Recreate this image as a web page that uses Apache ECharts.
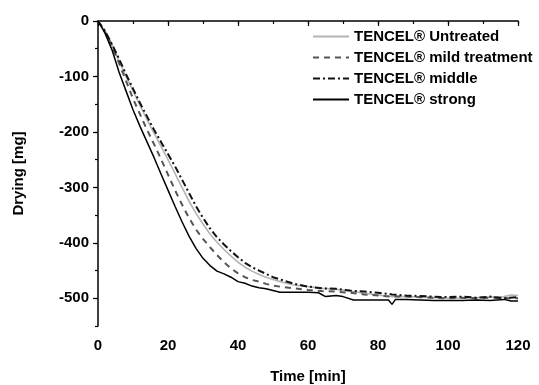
<!DOCTYPE html>
<html>
<head>
<meta charset="utf-8">
<script src="https://cdn.jsdelivr.net/npm/echarts@6/dist/echarts.min.js"></script>
<style>
  html, body { margin: 0; padding: 0; background: #fff; }
  #chart { width: 539px; height: 385px; }
</style>
</head>
<body>
<div id="chart"></div>
<script>
const seriesNames = ['TENCEL® Untreated', 'TENCEL® mild treatment', 'TENCEL® middle', 'TENCEL® strong'];

const untreated = [
  [0, 0], [2, -18], [4, -42], [6, -72], [8, -100], [10, -126], [12, -152], [14, -178], [16, -202],
  [18, -226], [20, -250], [22, -275], [24, -300], [26, -325], [28, -347], [30, -366], [32, -384],
  [34, -399], [36, -412], [38, -424], [40, -435], [42, -444], [44, -451], [46, -457], [48, -462],
  [50, -466], [52, -470], [56, -476], [60, -479], [64, -482], [68, -484], [72, -487], [76, -491],
  [80, -494], [84, -497], [88, -497], [92, -498], [96, -499], [100, -500], [104, -500], [108, -499],
  [112, -498], [116, -497], [118, -494], [120, -495]
];

const mild = [
  [0, 0], [2, -20], [4, -45], [6, -76], [8, -108], [10, -140], [12, -168], [14, -196], [16, -222],
  [18, -249], [20, -277], [22, -305], [24, -331], [26, -355], [28, -376], [30, -393], [32, -408],
  [34, -422], [36, -435], [38, -446], [40, -455], [42, -462], [44, -467], [46, -470], [48, -474],
  [50, -477], [52, -479], [56, -482], [60, -485], [64, -487], [68, -488], [72, -490], [76, -493],
  [80, -495], [84, -497], [88, -497], [92, -498], [96, -499], [100, -500], [104, -499], [108, -500],
  [112, -499], [116, -500], [120, -500]
];

const middle = [
  [0, 0], [2, -18], [4, -42], [6, -68], [8, -96], [10, -122], [12, -148], [14, -172], [16, -196],
  [18, -218], [20, -240], [22, -262], [24, -286], [26, -310], [28, -334], [30, -355], [32, -374],
  [34, -390], [36, -403], [38, -415], [40, -426], [42, -436], [44, -444], [46, -450], [48, -456],
  [50, -462], [52, -466], [56, -474], [60, -479], [64, -482], [68, -483], [72, -486], [76, -488],
  [80, -490], [84, -493], [88, -495], [92, -496], [96, -497], [100, -498], [104, -497], [108, -499],
  [112, -497], [116, -500], [120, -498]
];

const strong = [
  [0, 0], [2, -22], [4, -52], [6, -92], [8, -126], [10, -160], [12, -190], [14, -218], [16, -246],
  [18, -276], [20, -305], [22, -334], [24, -362], [26, -388], [28, -410], [30, -428], [32, -441],
  [34, -451], [36, -456], [38, -462], [40, -470], [42, -473], [44, -478], [46, -481], [48, -483],
  [50, -486], [52, -489], [56, -489], [60, -489], [63, -490], [65, -497], [68, -495], [70, -497],
  [73, -503], [76, -503], [80, -503], [83, -503], [84, -511], [85, -502], [88, -502], [92, -503],
  [96, -504], [100, -504], [104, -504], [108, -503], [112, -504], [116, -502], [118, -505], [120, -505]
];

const xMajorTicks = [0, 20, 40, 60, 80, 100, 120];
const yMajorTicks = [0, -100, -200, -300, -400, -500];

const font = '"Liberation Sans", Arial, sans-serif';
const chart = echarts.init(document.getElementById('chart'));

const lineSeries = (name, data, color, width, type) => ({
  name: name,
  type: 'line',
  data: data,
  symbol: 'none',
  smooth: false,
  animation: false,
  lineStyle: { color: color, width: width, type: type },
  itemStyle: { color: color }
});

const axisBase = {
  axisLine: { show: true, lineStyle: { color: '#000', width: 1.5 } },
  splitLine: { show: false },
  axisLabel: { color: '#000', fontFamily: font, fontWeight: 'bold', fontSize: 15 }
};

chart.setOption({
  animation: false,
  grid: { left: 98, right: 21, top: 21, bottom: 59, containLabel: false, outerBoundsMode: 'none' },
  legend: {
    orient: 'vertical',
    left: 307,
    top: 24,
    itemWidth: 36,
    itemHeight: 12,
    itemGap: 6,
    itemStyle: { opacity: 0 },
    textStyle: { color: '#000', fontFamily: font, fontWeight: 'bold', fontSize: 15 },
    data: seriesNames
  },
  xAxis: [{
    ...axisBase,
    type: 'value',
    min: 0,
    max: 120,
    interval: 10,
    name: 'Time [min]',
    nameLocation: 'middle',
    nameGap: 43,
    nameTextStyle: { color: '#000', fontFamily: font, fontWeight: 'bold', fontSize: 15 },
    axisTick: { show: true, inside: false, length: 3, lineStyle: { color: '#000', width: 1.2 } },
    axisLabel: {
      ...axisBase.axisLabel,
      margin: 12,
      formatter: v => (xMajorTicks.includes(v) ? String(v) : '')
    }
  }, {
    type: 'value',
    position: 'bottom',
    min: 0,
    max: 120,
    axisLine: { show: false },
    splitLine: { show: false },
    axisLabel: { show: false },
    axisTick: { show: true, length: 5, customValues: xMajorTicks, lineStyle: { color: '#000', width: 1.2 } }
  }],
  yAxis: [{
    ...axisBase,
    type: 'value',
    min: -550,
    max: 0,
    interval: 50,
    name: 'Drying [mg]',
    nameLocation: 'middle',
    nameRotate: 90,
    nameGap: 72,
    nameTextStyle: { color: '#000', fontFamily: font, fontWeight: 'bold', fontSize: 15 },
    axisTick: { show: true, inside: false, length: 3, lineStyle: { color: '#000', width: 1.2 } },
    axisLabel: {
      ...axisBase.axisLabel,
      margin: 9,
      formatter: v => (yMajorTicks.includes(v) ? String(v) : '')
    }
  }, {
    type: 'value',
    position: 'left',
    min: -550,
    max: 0,
    axisLine: { show: false },
    splitLine: { show: false },
    axisLabel: { show: false },
    axisTick: { show: true, length: 5, customValues: yMajorTicks, lineStyle: { color: '#000', width: 1.2 } }
  }],
  series: [
    lineSeries(seriesNames[0], untreated, '#b4b4b4', 1.6, 'solid'),
    lineSeries(seriesNames[1], mild, '#555555', 2, [6, 5]),
    lineSeries(seriesNames[2], middle, '#111111', 2, [7, 3, 2, 3]),
    lineSeries(seriesNames[3], strong, '#000000', 1.5, 'solid')
  ]
});
</script>
</body>
</html>
